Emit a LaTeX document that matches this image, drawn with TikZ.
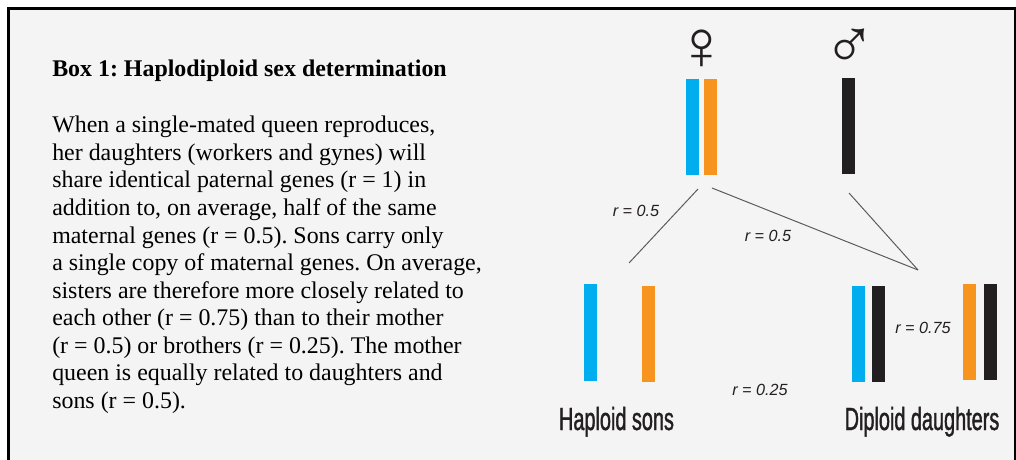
\documentclass[tikz,border=0pt]{standalone}
\usepackage{fontspec}
\setmainfont{Liberation Serif}
\newfontfamily\labelfont{Liberation Sans}
\newfontfamily\condfont[FakeStretch=0.62,FakeBold=1.2]{Liberation Sans}
\newfontfamily\symbfont{Liberation Sans}
\usetikzlibrary{positioning,calc}

\begin{document}
\frenchspacing
\begin{tikzpicture}[x=0.025cm, y=-0.025cm,
    bar/.style={minimum width=0.325cm, minimum height=2.4cm, inner sep=0pt, outer sep=0pt},
    rlabel/.style={font=\labelfont\itshape\fontsize{11.5}{13}\selectfont, text=scuro},
    gruppo/.style={font=\condfont\fontsize{22.8}{26}\selectfont, text=scuro, anchor=base},
    simbolo/.style={font=\symbfont\fontsize{50}{52}\selectfont, text=scuro},
    link/.style={draw=linea, line width=0.7pt}]
    % Definizione colori
    \definecolor{sfondo}{RGB}{244,244,244}
    \definecolor{cblu}{RGB}{0,174,239}
    \definecolor{carancio}{RGB}{247,148,29}
    \definecolor{cnero}{RGB}{35,31,32}
    \definecolor{scuro}{RGB}{35,31,32}
    \definecolor{linea}{RGB}{90,90,90}

    % Riquadro
    \useasboundingbox (0,0) rectangle (1016,459);
    \clip (0,0) rectangle (1016,459);
    \fill[white] (0,0) rectangle (1016,459);
    \draw[fill=sfondo, line width=1.5pt] (8.5,8.5) rectangle (1015,490);

    % Testo del riquadro
    \node[anchor=base west, inner sep=0pt, font=\fontsize{17}{19.6}\selectfont\bfseries] (titolo) at (52,77)
        {Box 1: Haplodiploid sex determination};
    \node[anchor=north west, align=left, inner sep=0pt, font=\fontsize{17}{19.6}\selectfont] (testo) at (52,116) {
        When a single-mated queen reproduces,\\
        her daughters (workers and gynes) will\\
        share identical paternal genes (r = 1) in\\
        addition to, on average, half of the same\\
        maternal genes (r = 0.5). Sons carry only\\
        a single copy of maternal genes. On average,\\
        sisters are therefore more closely related to\\
        each other (r = 0.75) than to their mother\\
        (r = 0.5) or brothers (r = 0.25). The mother\\
        queen is equally related to daughters and\\
        sons (r = 0.5).
    };

    % Simboli dei genitori
    \node[simbolo] (femmina) at (702,50) {♀};
    \node[simbolo] (maschio) at (850,49) {♂};

    % Cromosomi dei genitori
    \node[bar, fill=cblu] (madreA) at (692.5,127) {};
    \node[bar, fill=carancio] (madreB) at (710.5,127) {};
    \node[bar, fill=cnero] (padre) at (848.5,126) {};

    % Cromosomi dei figli
    \node[bar, fill=cblu] (figlioA) at (590,332.5) {};
    \node[bar, fill=carancio] (figlioB) at (648.5,334) {};

    % Cromosomi delle figlie
    \node[bar, fill=cblu] (figliaA1) at (858.5,334) {};
    \node[bar, fill=cnero] (figliaA2) at (878.5,334) {};
    \node[bar, fill=carancio] (figliaB1) at (969.5,332) {};
    \node[bar, fill=cnero] (figliaB2) at (990.5,332) {};

    % Collegamenti
    \coordinate (m1) at (698,189);
    \coordinate (m2) at (712,188);
    \coordinate (p1) at (849,193);
    \coordinate (figli) at (629,263);
    \coordinate (figlie) at (918,270);
    \draw[link] (m1) -- (figli);
    \draw[link] (m2) -- (figlie);
    \draw[link] (p1) -- (figlie);

    % Coefficienti di parentela
    \node[rlabel] (r1) at (636,211) {r = 0.5};
    \node[rlabel] (r2) at (768,236) {r = 0.5};
    \node[rlabel] (r3) at (923,328) {r = 0.75};
    \node[rlabel] (r4) at (760,390) {r = 0.25};

    % Etichette dei gruppi
    \node[gruppo] (figliet) at (616.5,430) {Haploid sons};
    \node[gruppo] (figlieet) at (922,430) {Diploid daughters};
\end{tikzpicture}
\end{document}
